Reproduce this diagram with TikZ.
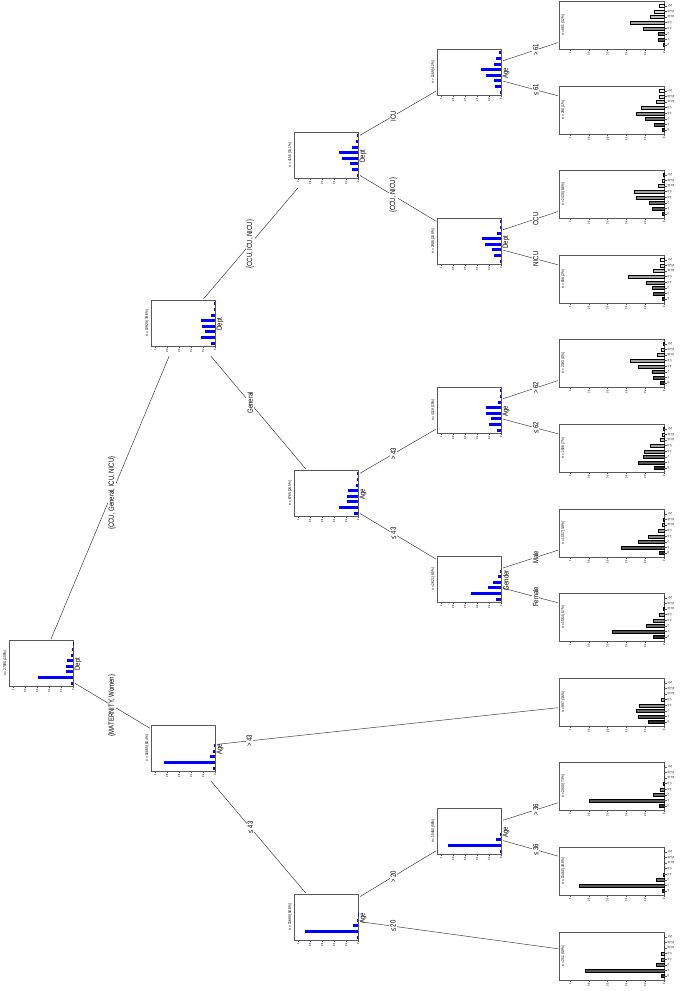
\documentclass[tikz,border=0pt]{standalone}
\usepackage{fontspec}
\setmainfont{Liberation Sans}
\newfontfamily\narrowfont[FakeStretch=0.8]{Liberation Sans}
\usetikzlibrary{backgrounds}
\definecolor{leafc0}{HTML}{2E2E2E}
\definecolor{leafc1}{HTML}{555555}
\definecolor{leafc2}{HTML}{6A6A6A}
\definecolor{leafc3}{HTML}{8A8A8A}
\definecolor{leafc4}{HTML}{A2A2A2}
\definecolor{leafc5}{HTML}{BDBDBD}
\definecolor{leafc6}{HTML}{D8D8D8}
\definecolor{leafc7}{HTML}{F7F7F7}

\newcommand{\innerpanel}[6]{%
  \fill[white] (#2-1,#3-1) rectangle (#2+66,#3+56);
  \draw[panelline] (#2,#3) rectangle (#2+64,#3+46);
  \coordinate (#1) at (#2+32,#3+23);
  \foreach \v [count=\i from 0] in {#6}
    \fill[innerbar] (#2+64,#3+43-5.6*\i-1.5) rectangle (#2+64-60*\v,#3+43-5.6*\i+1.5);
  \foreach \t/\s in {0/0,0.2/0.2,0.4/0.4,0.6/0.6,0.8/0.8,1/1}
    \draw[panelline] (#2+64-60*\t,#3+46) -- ++(0,2) node[ticklab] {\s};
  \node[nlab] at (#2-4,#3+23) {#4};
  \node[varlab] at (#2+69,#3+24) {#5};
}
\newcommand{\leafpanel}[4]{%
  \fill[white] (558,#2-1) rectangle (685,#2+58);
  \draw[panelline] (559,#2) rectangle (664,#2+48);
  \coordinate (#1) at (611,#2+24);
  \node[nlab] at (563,#2+24) {#3};
  \foreach \v [count=\i from 0] in {#4}
    \filldraw[leafbar, fill=leafc\i] (664,#2+44-5.6*\i-1.5) rectangle (664-94*\v,#2+44-5.6*\i+1.5);
  \foreach \c [count=\i from 0] in {0,1,2,3-4,5-9,10-14,15-24,25+}
    \draw[panelline] (664,#2+44-5.6*\i) -- ++(3,0) node[catlab] {\c};
  \foreach \t/\s in {0/0,0.2/0.2,0.4/0.4,0.6/0.6,0.8/0.8,1/1}
    \draw[panelline] (664-94*\t,#2+48) -- ++(0,2) node[ticklab] {\s};
}

\begin{document}
\begin{tikzpicture}[x=1pt, y=-1pt,
    panelline/.style={draw=black!65, line width=.4pt},
    innerbar/.style={fill=blue},
    leafbar/.style={draw=black, line width=.3pt},
    edge/.style={draw=black!75, line width=.5pt},
    nlab/.style={rotate=90, inner sep=0pt, font=\narrowfont\fontsize{4}{4}\selectfont},
    ticklab/.style={rotate=90, anchor=east, inner sep=.6pt, font=\narrowfont\fontsize{3}{3}\selectfont},
    catlab/.style={rotate=180, anchor=east, inner sep=.6pt, font=\narrowfont\fontsize{3.2}{3.2}\selectfont},
    varlab/.style={rotate=90, inner sep=0pt, font=\narrowfont\fontsize{7.5}{8}\selectfont},
    elab/.style={rotate=90, fill=white, inner sep=1pt, font=\narrowfont\fontsize{7.5}{8}\selectfont}]
\useasboundingbox (0,0) rectangle (685,991);

\innerpanel{root}{9}{640}{n = 27585 (100\%)}{Dept}{.04,.58,.12,.11,.10,.03,.01,.005}
\innerpanel{matern}{151}{725}{n = 16665 (60.4\%)}{Age}{.03,.85,.08,.03,.01,0,0,0}
\innerpanel{dept}{151}{300}{n = 10920 (39.6\%)}{Dept}{.06,.23,.17,.22,.23,.06,.02,.01}
\innerpanel{agelow}{294}{894}{n = 15668 (56.8\%)}{Age}{.02,.88,.08,.01,.005,0,0,0}
\innerpanel{general}{294}{470}{n = 6765 (24.5\%)}{Age}{.07,.32,.19,.19,.17,.04,.01,.01}
\innerpanel{icugrp}{294}{132}{n = 4155 (15.1\%)}{Dept}{.01,.10,.13,.27,.32,.10,.03,.02}
\innerpanel{agetwenty}{437}{808}{n = 15460 (56\%)}{Age}{.02,.89,.08,.01,0,0,0,0}
\innerpanel{gender}{437}{556}{n = 2621 (9.5\%)}{Gender}{.08,.50,.22,.14,.05,.01,0,0}
\innerpanel{agegen}{437}{387}{n = 4119 (15\%)}{Age}{.07,.20,.17,.25,.25,.05,.02,.01}
\innerpanel{ccugrp}{437}{218}{n = 2988 (10.8\%)}{Dept}{.02,.12,.15,.27,.32,.07,.02,.02}
\innerpanel{ageicu}{437}{49}{n = 1169 (4.2\%)}{Age}{.02,.10,.12,.25,.33,.12,.08,.04}

\leafpanel{gtsixtyone}{1}{n = 881 (3.2\%)}{.01,.065,.065,.22,.36,.15,.11,.05}
\leafpanel{lesixtyone}{86}{n = 288 (1\%)}{.02,.10,.20,.30,.24,.085,.05,.05}
\leafpanel{ccu}{170}{n = 2430 (8.8\%)}{.02,.13,.16,.30,.32,.06,.02,.01}
\leafpanel{nicu}{255}{n = 558 (2\%)}{.02,.12,.13,.19,.38,.12,.04,.04}
\leafpanel{gtsixtytwo}{339}{n = 2193 (8\%)}{.04,.12,.13,.28,.36,.07,.03,.01}
\leafpanel{lesixtytwo}{424}{n = 1926 (7\%)}{.10,.28,.22,.21,.15,.04,.015,.01}
\leafpanel{male}{509}{n = 1057 (3.8\%)}{.05,.46,.27,.17,.06,.015,.01,0}
\leafpanel{female}{593}{n = 1564 (5.7\%)}{.12,.55,.19,.12,.05,.005,0,0}
\leafpanel{gtfortythree}{678}{n = 997 (3.6\%)}{.17,.27,.30,.26,.03,0,0,0}
\leafpanel{gtthirtysix}{762}{n = 2000 (7.3\%)}{.05,.80,.12,.04,.01,0,0,0}
\leafpanel{lethirtysix}{847}{n = 13460 (48.8\%)}{.02,.90,.08,.007,0,0,0,0}
\leafpanel{letwenty}{932}{n = 251 (0.9\%)}{.03,.84,.08,.03,.03,0,0,0}

\begin{pgfonlayer}{background}
\draw[edge] (root) -- node[elab] {\{CCU, General, ICU, NICU\}} (dept);
\draw[edge] (root) -- node[elab] {\{MATERNITY, Women\}} (matern);
\draw[edge] (dept) -- node[elab, pos=.47] {\{CCU, ICU, NICU\}} (icugrp);
\draw[edge] (dept) -- node[elab, pos=.47] {General} (general);
\draw[edge] (matern) -- node[elab, pos=.155] {> 43} (gtfortythree);
\draw[edge] (matern) -- node[elab, pos=.47] {≤ 43} (agelow);
\draw[edge] (icugrp) -- node[elab, pos=.47] {ICU} (ageicu);
\draw[edge] (icugrp) -- node[elab, pos=.47] {\{CCU, NICU\}} (ccugrp);
\draw[edge] (general) -- node[elab, pos=.47] {> 43} (agegen);
\draw[edge] (general) -- node[elab, pos=.47] {≤ 43} (gender);
\draw[edge] (agelow) -- node[elab, pos=.47] {> 20} (agetwenty);
\draw[edge] (agelow) -- node[elab, pos=.235] {≤ 20} (letwenty);
\draw[edge] (ageicu) -- node[elab, pos=.47] {> 61} (gtsixtyone);
\draw[edge] (ageicu) -- node[elab, pos=.47] {≤ 61} (lesixtyone);
\draw[edge] (ccugrp) -- node[elab, pos=.47] {CCU} (ccu);
\draw[edge] (ccugrp) -- node[elab, pos=.47] {NICU} (nicu);
\draw[edge] (agegen) -- node[elab, pos=.47] {> 62} (gtsixtytwo);
\draw[edge] (agegen) -- node[elab, pos=.47] {≤ 62} (lesixtytwo);
\draw[edge] (gender) -- node[elab, pos=.47] {Male} (male);
\draw[edge] (gender) -- node[elab, pos=.47] {Female} (female);
\draw[edge] (agetwenty) -- node[elab, pos=.47] {> 36} (gtthirtysix);
\draw[edge] (agetwenty) -- node[elab, pos=.47] {≤ 36} (lethirtysix);
\end{pgfonlayer}
\end{tikzpicture}
\end{document}
